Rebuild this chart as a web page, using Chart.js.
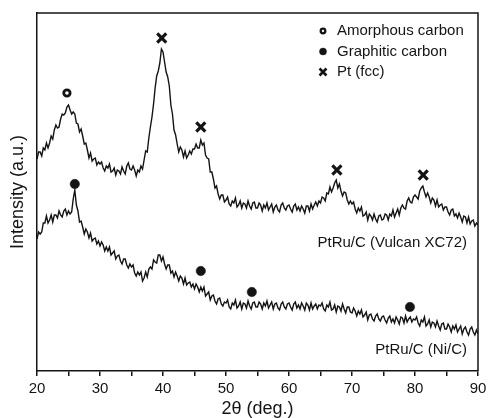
<!DOCTYPE html>
<html>
<head>
<meta charset="utf-8">
<script src="https://cdn.jsdelivr.net/npm/chart.js@4.4.1/dist/chart.umd.min.js"></script>
<style>
  html, body { margin: 0; padding: 0; background: #fff; }
  #wrap { width: 489px; height: 418px; }
</style>
</head>
<body>
<div id="wrap"><canvas id="xrd" width="489" height="418"></canvas></div>
<script>
// 2theta scan: 20 -> 90 deg, 0.25 deg step
const scanStart = 20
const scanStep = 0.25
const xTickLabels = [20, 30, 40, 50, 60, 70, 80, 90]

// intensity (a.u.), one row = 5 deg
const vulcan = [
  212,219,219,215,223,221,228,223,228,235,232,241,246,243,244,252,257,256,258,264,
  266,261,257,259,257,248,247,239,242,235,227,228,221,213,218,210,212,213,206,209,
  207,209,203,200,205,203,207,199,200,203,196,201,200,197,204,200,197,205,208,202,
  201,205,201,195,201,199,205,202,211,220,219,233,244,254,267,283,295,300,308,322,
  319,309,299,294,285,266,257,241,236,227,219,224,221,214,220,213,216,220,217,222,
  222,227,223,223,231,226,228,216,213,212,199,199,192,183,185,177,172,176,176,169,
  171,174,167,165,170,168,173,164,166,170,163,168,167,163,170,165,162,168,169,163,
  163,168,166,160,166,163,168,161,164,167,159,164,166,161,159,166,168,163,161,165,
  166,162,159,165,167,161,164,160,165,162,158,165,165,160,167,162,166,169,165,170,
  168,174,173,170,178,177,184,179,183,188,191,183,187,180,175,179,178,171,167,170,
  167,169,162,158,163,160,164,155,156,159,151,157,155,151,157,152,149,155,156,151,
  152,157,156,151,157,155,161,154,158,162,156,163,166,163,162,170,173,169,168,174,
  176,174,172,180,183,185,179,174,178,174,168,173,171,165,171,164,166,167,161,164,
  164,159,156,161,162,155,157,153,158,154,149,155,154,148,154,147,150,151,145,148,
  146
]

const niC = [
  132,139,137,139,148,148,155,148,151,156,149,156,156,153,160,156,154,160,162,156,
  160,157,159,172,181,166,160,149,150,144,137,142,139,133,138,130,132,133,127,130,
  125,129,126,120,124,120,124,116,118,120,112,115,116,110,107,112,112,106,103,107,
  104,106,98,95,99,96,99,90,93,99,94,102,104,102,111,109,108,116,116,110,
  114,107,102,106,106,98,100,94,99,95,90,95,93,87,93,86,88,89,84,87,
  82,87,84,79,84,80,84,75,77,79,71,75,76,70,67,72,73,67,65,69,
  68,71,64,62,68,66,71,63,65,69,62,68,67,63,70,65,62,68,69,64,
  64,69,67,62,68,65,70,63,66,69,62,67,68,63,61,67,69,64,62,67,
  68,64,61,67,69,63,66,62,68,65,61,68,66,61,68,62,65,67,62,66,
  65,68,62,60,66,64,69,61,62,66,59,65,64,60,67,62,58,64,64,59,
  58,63,60,55,60,57,61,54,56,59,51,56,57,52,50,55,57,52,50,54,
  55,51,48,53,55,49,52,48,54,51,47,54,53,48,55,49,52,54,49,52,
  51,54,48,45,51,49,54,45,47,51,44,49,48,44,50,45,41,47,48,42,
  42,47,44,39,45,42,46,39,42,45,37,42,44,39,36,42,44,39,36,41,
  37
]

// peak markers [2theta, intensity]
const amorphousPeaks = [[24.75, 278]]
const graphiticPeaks = [[26.0, 187], [46.0, 100], [54.1, 79], [79.2, 64]]
const ptPeaks = [[39.8, 333], [46.0, 244], [67.6, 201], [81.3, 196]]

const legendNames = ['Amorphous carbon', 'Graphitic carbon', 'Pt (fcc)']
const curveNames = ['PtRu/C (Vulcan XC72)', 'PtRu/C (Ni/C)']
const curveNamePos = [[88.25, 128], [88.25, 21]]

const twoTheta = []
for (let i = 0; i < vulcan.length; i++) twoTheta.push(scanStart + i * scanStep)

const FONT = "'Liberation Sans', Arial, Helvetica, sans-serif"
const INK = '#141414'

function toPoints(list) {
  return list.map(p => ({x: p[0], y: p[1]}))
}

// marker styles in the plot, and the smaller ones in the legend
const markerStyles = [
  {pointStyle: 'circle', radius: 3.2, borderWidth: 2.8, fill: '#fff'},
  {pointStyle: 'circle', radius: 4.7, borderWidth: 0.5, fill: INK},
  {pointStyle: 'crossRot', radius: 6.4, borderWidth: 3.2, fill: INK}
]
const legendMarks = [
  {pointStyle: 'circle', radius: 2.3, borderWidth: 2.3, fill: '#fff'},
  {pointStyle: 'circle', radius: 3.5, borderWidth: 0.5, fill: INK},
  {pointStyle: 'crossRot', radius: 4.9, borderWidth: 2.6, fill: INK}
]

function markerDataset(name, list, st) {
  return {
    type: 'scatter',
    label: name,
    data: toPoints(list),
    showLine: false,
    pointStyle: st.pointStyle,
    pointRadius: st.radius,
    pointBorderWidth: st.borderWidth,
    pointBackgroundColor: st.fill,
    pointBorderColor: INK,
    order: 0
  }
}

const frameAndText = {
  id: 'frameAndText',
  afterDraw(chart) {
    const ctx = chart.ctx
    const a = chart.chartArea
    const xs = chart.scales.x
    const ys = chart.scales.y
    ctx.save()
    // top + right edge of the box
    ctx.strokeStyle = INK
    ctx.lineWidth = 1.5
    ctx.beginPath()
    ctx.moveTo(a.left, a.top)
    ctx.lineTo(a.right, a.top)
    ctx.lineTo(a.right, a.bottom)
    ctx.stroke()

    // curve names
    ctx.fillStyle = INK
    ctx.font = '15px ' + FONT
    ctx.textAlign = 'right'
    ctx.textBaseline = 'middle'
    curveNames.forEach((name, i) => {
      ctx.fillText(name, xs.getPixelForValue(curveNamePos[i][0]), ys.getPixelForValue(curveNamePos[i][1]))
    })

    // legend
    const lx = 323, ly = 31, step = 20.5
    ctx.textAlign = 'left'
    legendNames.forEach((name, i) => {
      const st = legendMarks[i]
      ctx.fillStyle = st.fill
      ctx.strokeStyle = INK
      ctx.lineWidth = st.borderWidth
      Chart.helpers.drawPoint(ctx, {pointStyle: st.pointStyle, radius: st.radius, rotation: 0, borderWidth: st.borderWidth}, lx, ly + i * step)
      ctx.fillStyle = INK
      ctx.fillText(name, lx + 14, ly + i * step)
    })
    ctx.restore()
  }
}

new Chart(document.getElementById('xrd'), {
  type: 'line',
  data: {
    labels: twoTheta,
    datasets: [
      {label: curveNames[0], data: vulcan, borderColor: INK, borderWidth: 1.4, pointRadius: 0, tension: 0, order: 1},
      {label: curveNames[1], data: niC, borderColor: INK, borderWidth: 1.4, pointRadius: 0, tension: 0, order: 1},
      markerDataset(legendNames[0], amorphousPeaks, markerStyles[0]),
      markerDataset(legendNames[1], graphiticPeaks, markerStyles[1]),
      markerDataset(legendNames[2], ptPeaks, markerStyles[2])
    ]
  },
  options: {
    responsive: false,
    animation: false,
    layout: {padding: {top: 13, right: 11, left: 0, bottom: 0}},
    plugins: {legend: {display: false}, tooltip: {enabled: false}},
    scales: {
      x: {
        type: 'linear',
        min: 20,
        max: 90,
        afterFit(scale) { scale.height = 47 },
        border: {display: true, color: INK, width: 1.5},
        grid: {drawOnChartArea: false, drawTicks: true, tickLength: 5, color: INK, lineWidth: 1.5},
        ticks: {
          stepSize: 5,
          padding: 2,
          color: INK,
          maxRotation: 0,
          autoSkip: false,
          font: {family: FONT, size: 15, lineHeight: 1.5},
          callback: v => xTickLabels.includes(v) ? String(v) : ''
        },
        title: {display: true, text: '2θ (deg.)', color: INK, font: {family: FONT, size: 18, lineHeight: 1.05}, padding: {top: 0, bottom: 0}}
      },
      y: {
        min: 0,
        max: 358,
        afterFit(scale) { scale.width = 37 },
        border: {display: true, color: INK, width: 1.5},
        grid: {display: false, drawTicks: false},
        ticks: {display: false},
        title: {display: true, text: 'Intensity (a.u.)', color: INK, font: {family: FONT, size: 18, lineHeight: 1.1}, padding: {top: 8, bottom: 0}}
      }
    }
  },
  plugins: [frameAndText]
})
</script>
</body>
</html>
